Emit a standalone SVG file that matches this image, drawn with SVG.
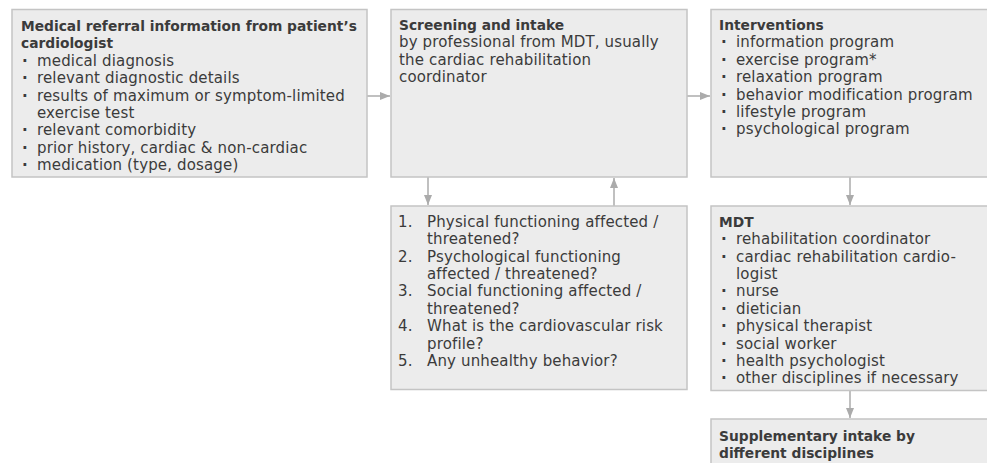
<svg xmlns="http://www.w3.org/2000/svg" width="987" height="463" viewBox="0 0 987 463">
<defs>
<style>
.box{fill:#ececec;stroke:#c4c4c4;stroke-width:1.5}
text{font-family:"DejaVu Sans","Liberation Sans",sans-serif;font-size:15px;fill:#3b3b3b;letter-spacing:0.15px}
.t{font-weight:bold;font-size:13.8px;letter-spacing:0}
.b{font-weight:bold}
.con{stroke:#ababab;stroke-width:1.5;fill:none}
</style>
<marker id="ah" viewBox="0 0 10 10" refX="10" refY="5" markerWidth="10" markerHeight="10" markerUnits="userSpaceOnUse" orient="auto">
<path d="M0,1 L10,5 L0,9 z" fill="#ababab"/>
</marker>
</defs>
<rect width="987" height="463" fill="#ffffff"/>
<g id="connectors">
<line class="con" x1="367" y1="96" x2="390" y2="96" marker-end="url(#ah)"/>
<line class="con" x1="687" y1="96" x2="710" y2="96" marker-end="url(#ah)"/>
<line class="con" x1="428" y1="177" x2="428" y2="205" marker-end="url(#ah)"/>
<line class="con" x1="614" y1="206" x2="614" y2="178" marker-end="url(#ah)"/>
<line class="con" x1="850" y1="177" x2="850" y2="205" marker-end="url(#ah)"/>
<line class="con" x1="850" y1="390" x2="850" y2="418" marker-end="url(#ah)"/>
</g>
<g id="referral">
<rect class="box" x="12" y="9.5" width="355" height="167.5"/>
<text class="t" x="21" y="31">Medical referral information from patient’s</text>
<text class="t" x="21" y="48.4">cardiologist</text>
<text class="b" x="22" y="65.8">·</text><text x="37" y="65.8">medical diagnosis</text>
<text class="b" x="22" y="83.2">·</text><text x="37" y="83.2">relevant diagnostic details</text>
<text class="b" x="22" y="100.6">·</text><text x="37" y="100.6">results of maximum or symptom-limited</text>
<text x="37" y="118">exercise test</text>
<text class="b" x="22" y="135.4">·</text><text x="37" y="135.4">relevant comorbidity</text>
<text class="b" x="22" y="152.8">·</text><text x="37" y="152.8">prior history, cardiac &amp; non-cardiac</text>
<text class="b" x="22" y="170.2">·</text><text x="37" y="170.2">medication (type, dosage)</text>
</g>
<g id="screening">
<rect class="box" x="391" y="9.5" width="296" height="167.5"/>
<text class="t" x="399" y="30">Screening and intake</text>
<text x="399" y="47.4">by professional from MDT, usually</text>
<text x="399" y="64.8">the cardiac rehabilitation</text>
<text x="399" y="82.2">coordinator</text>
</g>
<g id="interventions">
<rect class="box" x="711" y="9.5" width="290" height="167.5"/>
<text class="t" x="719" y="30">Interventions</text>
<text class="b" x="721" y="47.4">·</text><text x="736" y="47.4">information program</text>
<text class="b" x="721" y="64.8">·</text><text x="736" y="64.8">exercise program*</text>
<text class="b" x="721" y="82.2">·</text><text x="736" y="82.2">relaxation program</text>
<text class="b" x="721" y="99.6">·</text><text x="736" y="99.6">behavior modification program</text>
<text class="b" x="721" y="117">·</text><text x="736" y="117">lifestyle program</text>
<text class="b" x="721" y="134.4">·</text><text x="736" y="134.4">psychological program</text>
</g>
<g id="questions">
<rect class="box" x="391" y="206" width="296" height="183.5"/>
<text x="398" y="226.7">1.</text><text x="427" y="226.7">Physical functioning affected /</text>
<text x="427" y="244.1">threatened?</text>
<text x="398" y="261.5">2.</text><text x="427" y="261.5">Psychological functioning</text>
<text x="427" y="278.9">affected / threatened?</text>
<text x="398" y="296.3">3.</text><text x="427" y="296.3">Social functioning affected /</text>
<text x="427" y="313.7">threatened?</text>
<text x="398" y="331.1">4.</text><text x="427" y="331.1">What is the cardiovascular risk</text>
<text x="427" y="348.5">profile?</text>
<text x="398" y="365.9">5.</text><text x="427" y="365.9">Any unhealthy behavior?</text>
</g>
<g id="mdt">
<rect class="box" x="711" y="206" width="290" height="184.5"/>
<text class="t" x="719" y="226.7">MDT</text>
<text class="b" x="721" y="244.1">·</text><text x="736" y="244.1">rehabilitation coordinator</text>
<text class="b" x="721" y="261.5">·</text><text x="736" y="261.5">cardiac rehabilitation cardio-</text>
<text x="736" y="278.9">logist</text>
<text class="b" x="721" y="296.3">·</text><text x="736" y="296.3">nurse</text>
<text class="b" x="721" y="313.7">·</text><text x="736" y="313.7">dietician</text>
<text class="b" x="721" y="331.1">·</text><text x="736" y="331.1">physical therapist</text>
<text class="b" x="721" y="348.5">·</text><text x="736" y="348.5">social worker</text>
<text class="b" x="721" y="365.9">·</text><text x="736" y="365.9">health psychologist</text>
<text class="b" x="721" y="383.3">·</text><text x="736" y="383.3">other disciplines if necessary</text>
</g>
<g id="supplementary">
<rect class="box" x="711" y="419" width="290" height="60"/>
<text class="t" x="719" y="440.7">Supplementary intake by</text>
<text class="t" x="719" y="458.1">different disciplines</text>
</g>
</svg>
